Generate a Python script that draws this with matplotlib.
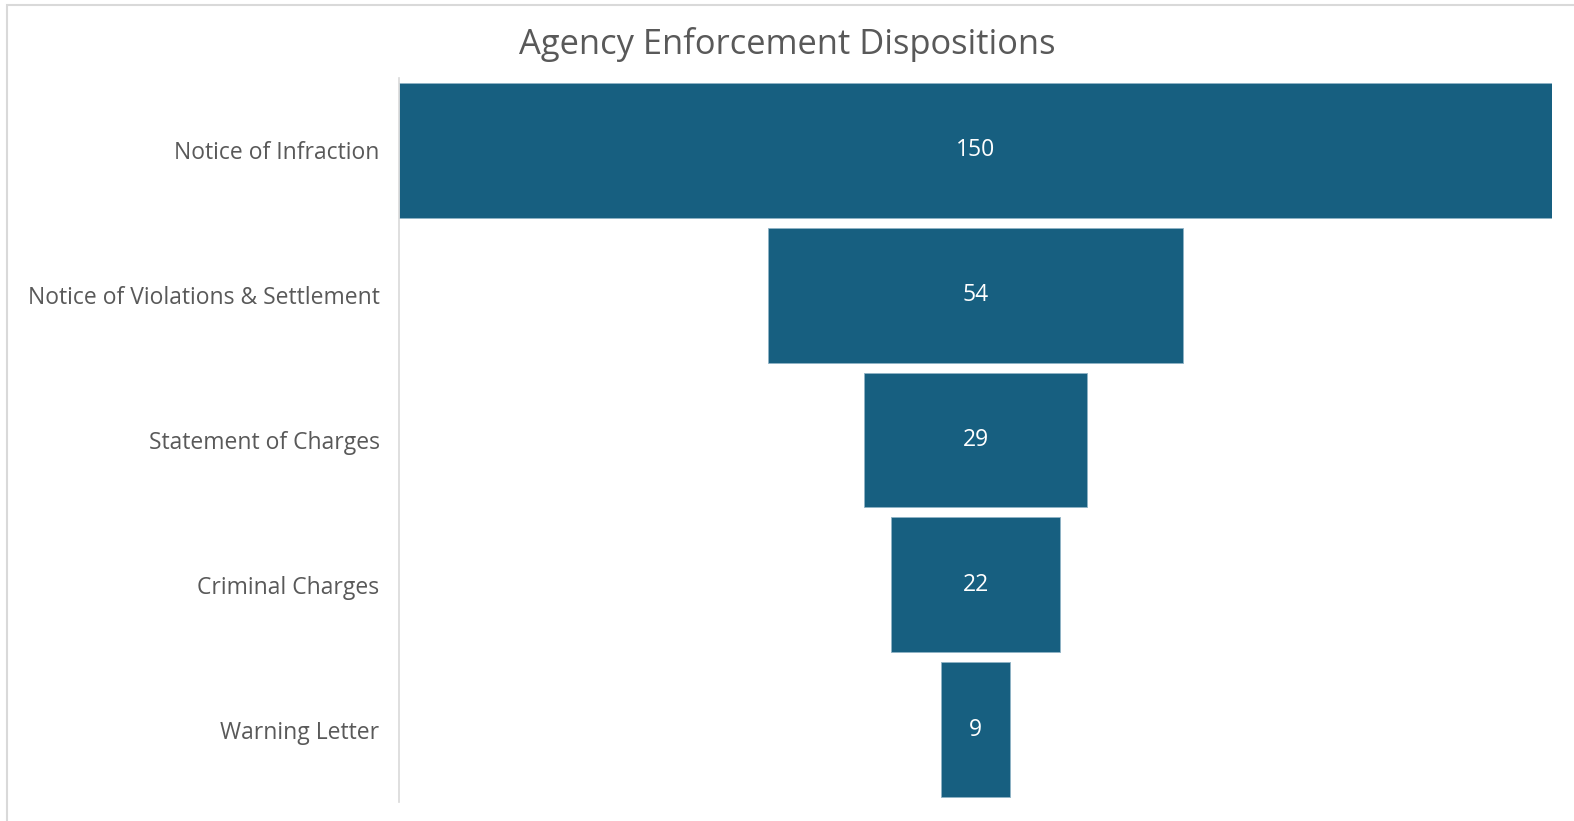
import matplotlib.pyplot as plt
from matplotlib.patches import Rectangle

stages = ["Notice of Infraction", "Notice of Violations & Settlement",
          "Statement of Charges", "Criminal Charges", "Warning Letter"]
counts = [150, 54, 29, 22, 9]

BAR = "#175F80"
TXT = "#595959"

plt.rcParams["font.family"] = ["Open Sans", "DejaVu Sans"]

fig = plt.figure(figsize=(15.74, 8.21), dpi=100)
ax = fig.add_axes([399 / 1574, 19 / 821, 1153 / 1574, 724 / 821])

top = max(counts)
ypos = list(range(len(stages)))
lefts = [(top - c) / 2 for c in counts]
ax.barh(ypos, counts, left=lefts, height=0.93, color=BAR,
        edgecolor="#8fb3c6", linewidth=0.6)
for y, c, l in zip(ypos, counts, lefts):
    ax.text(l + c / 2, y, str(c), ha="center", va="center",
            color="white", fontsize=16.5)

ax.set_xlim(0, top)
ax.set_ylim(len(stages) - 0.5, -0.5)
ax.set_yticks(ypos)
ax.set_yticklabels(stages, fontsize=16.5, color=TXT)
ax.tick_params(axis="y", length=0, pad=14)
ax.set_xticks([])
for side in ["top", "right", "bottom"]:
    ax.spines[side].set_visible(False)
ax.spines["left"].set_color("#d9d9d9")
ax.spines["left"].set_linewidth(1.2)

fig.text(0.5, 1 - 44 / 821, "Agency Enforcement Dispositions", ha="center",
         va="center", fontsize=24.8, color=TXT)

# outer chart frame (cut off at right and bottom)
fig.patches.append(Rectangle((7 / 1574, -0.05), 1.1, 1 - 5 / 821 + 0.05,
                             transform=fig.transFigure, fill=False,
                             edgecolor="#d9d9d9", linewidth=1.5))

fig.savefig("out.png", dpi=100)
